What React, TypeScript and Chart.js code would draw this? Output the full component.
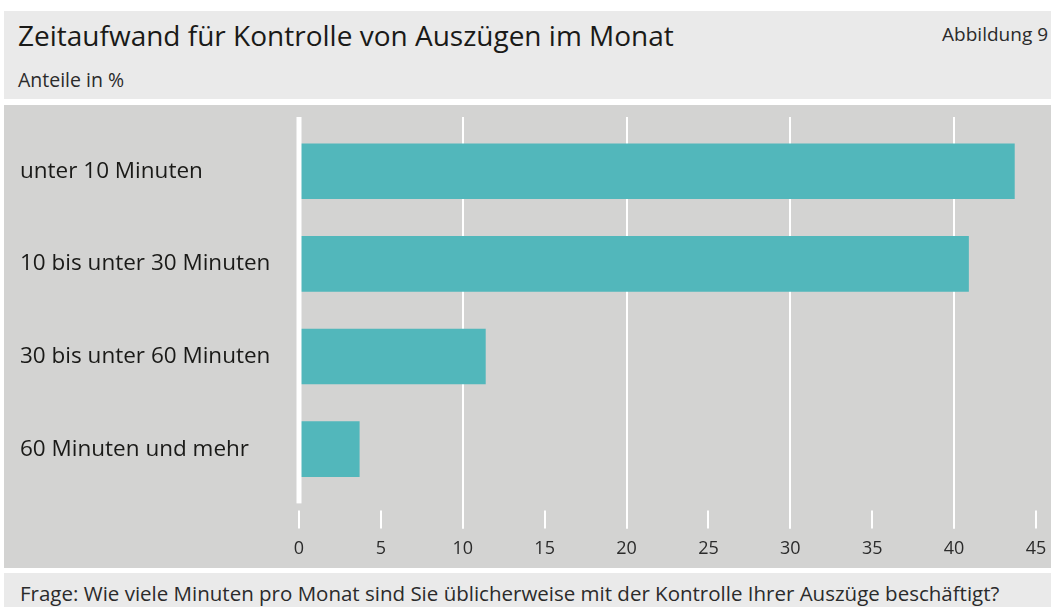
import React, { useEffect, useRef } from "react";
import { Chart, registerables } from "chart.js";

Chart.register(...registerables);

const categories = [
  "unter 10 Minuten",
  "10 bis unter 30 Minuten",
  "30 bis unter 60 Minuten",
  "60 Minuten und mehr",
];
const shares = [43.7, 40.9, 11.4, 3.7];
const xTicks = [0, 5, 10, 15, 20, 25, 30, 35, 40, 45];
const gridValues = [10, 20, 30, 40];

const TITLE = "Zeitaufwand für Kontrolle von Auszügen im Monat";
const SUBTITLE = "Anteile in %";
const FIGURE = "Abbildung 9";
const FOOTNOTE =
  "Frage: Wie viele Minuten pro Monat sind Sie üblicherweise mit der Kontrolle Ihrer Auszüge beschäftigt?";

const FONT = "'Open Sans', 'Noto Sans', sans-serif";
const PLOT_BG = "#d3d3d2";
const HEADER_BG = "#eaeaea";
const BAR = "#52b7bb";
const TEXT = "#1a1a18";

const decorPlugin = {
  id: "decor",
  beforeDraw(chart: any) {
    const { ctx, width, height } = chart;
    ctx.save();
    ctx.fillStyle = PLOT_BG;
    ctx.fillRect(0, 0, width, height);
    ctx.restore();
  },
  beforeDatasetsDraw(chart: any) {
    const { ctx, chartArea } = chart;
    const x = chart.scales.x;
    const top = chartArea.top - 8;
    const tickTop = chartArea.bottom + 15;
    const tickBottom = chartArea.bottom + 33;
    ctx.save();
    ctx.strokeStyle = "#ffffff";
    ctx.lineWidth = 2;
    gridValues.forEach((v) => {
      const px = Math.round(x.getPixelForValue(v));
      ctx.beginPath();
      ctx.moveTo(px, top);
      ctx.lineTo(px, tickBottom);
      ctx.stroke();
    });
    xTicks.forEach((v) => {
      const px = Math.round(x.getPixelForValue(v));
      ctx.beginPath();
      ctx.moveTo(px, tickTop);
      ctx.lineTo(px, tickBottom);
      ctx.stroke();
    });
    ctx.restore();
  },
  afterDatasetsDraw(chart: any) {
    const { ctx, chartArea } = chart;
    const x = chart.scales.x;
    const px = x.getPixelForValue(0);
    ctx.save();
    ctx.fillStyle = "#ffffff";
    ctx.fillRect(px - 2.5, chartArea.top - 8, 5, chartArea.bottom - chartArea.top + 16);
    ctx.restore();
  },
};

function PlotChart() {
  const ref = useRef<HTMLCanvasElement | null>(null);
  useEffect(() => {
    if (!ref.current) return;
    const chart = new Chart(ref.current, {
      type: "bar",
      data: {
        labels: categories,
        datasets: [
          {
            data: shares,
            backgroundColor: BAR,
            borderWidth: 0,
            barPercentage: 0.6,
            categoryPercentage: 1,
          },
        ],
      },
      options: {
        indexAxis: "y",
        animation: false,
        responsive: false,
        maintainAspectRatio: false,
        layout: { padding: { left: 16, right: 15, top: 20, bottom: 0 } },
        plugins: {
          legend: { display: false },
          tooltip: { enabled: false },
          title: { display: false },
        },
        scales: {
          x: {
            type: "linear",
            min: 0,
            max: 45,
            afterBuildTicks: (scale: any) => {
              scale.ticks = xTicks.map((v) => ({ value: v }));
            },
            grid: { display: false, drawTicks: true, tickLength: 43 },
            border: { display: false },
            ticks: {
              padding: 0,
              color: "#2b2b2b",
              font: { family: FONT, size: 18 },
            },
            afterFit: (scale: any) => {
              scale.height = 72.6;
            },
          },
          y: {
            grid: { display: false, drawTicks: false },
            border: { display: false },
            ticks: {
              crossAlign: "far",
              color: TEXT,
              font: { family: FONT, size: 22.5 },
            },
            afterFit: (scale: any) => {
              scale.width = 279;
            },
          },
        },
      },
      plugins: [decorPlugin],
    });
    return () => chart.destroy();
  }, []);
  return <canvas ref={ref} width={1047} height={463} style={{ display: "block" }} />;
}

export default function App() {
  return (
    <div
      style={{
        position: "absolute",
        left: 0,
        top: 0,
        width: 1051,
        height: 607,
        background: "#ffffff",
        overflow: "hidden",
        fontFamily: FONT,
        color: TEXT,
      }}
    >
      <div
        style={{
          position: "absolute",
          left: 4,
          top: 11,
          width: 1047,
          height: 88,
          background: HEADER_BG,
        }}
      />
      <div
        style={{
          position: "absolute",
          left: 18,
          top: 21,
          fontSize: 28,
          lineHeight: "28px",
          whiteSpace: "nowrap",
        }}
      >
        {TITLE}
      </div>
      <div
        style={{
          position: "absolute",
          left: 18,
          top: 69.5,
          fontSize: 19.5,
          lineHeight: "19.5px",
          whiteSpace: "nowrap",
          color: "#2b2b2b",
        }}
      >
        {SUBTITLE}
      </div>
      <div
        style={{
          position: "absolute",
          right: 3,
          top: 25,
          fontSize: 19,
          lineHeight: "19px",
          whiteSpace: "nowrap",
          color: "#2b2b2b",
        }}
      >
        {FIGURE}
      </div>
      <div style={{ position: "absolute", left: 4, top: 105, width: 1047, height: 463 }}>
        <PlotChart />
      </div>
      <div
        style={{
          position: "absolute",
          left: 4,
          top: 573,
          width: 1047,
          height: 34,
          background: HEADER_BG,
        }}
      />
      <div
        style={{
          position: "absolute",
          left: 20,
          top: 582.5,
          fontSize: 20.5,
          lineHeight: "20.5px",
          whiteSpace: "nowrap",
          color: "#2b2b2b",
        }}
      >
        {FOOTNOTE}
      </div>
    </div>
  );
}
